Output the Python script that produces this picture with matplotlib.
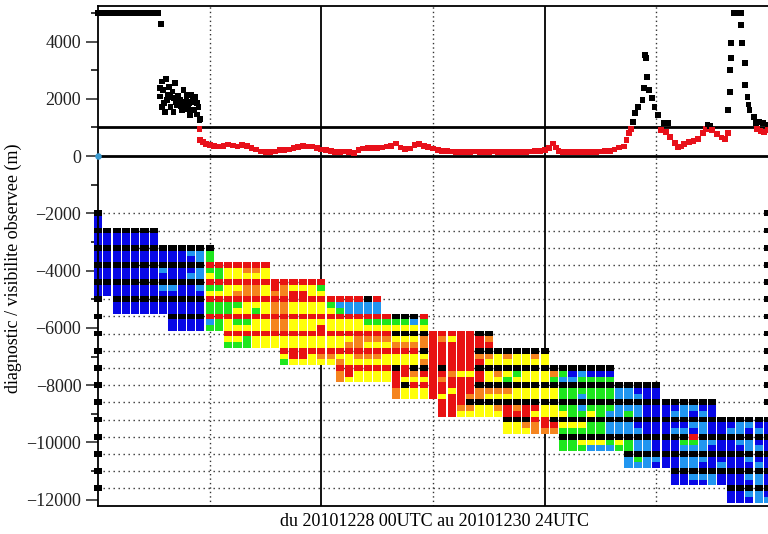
import matplotlib
matplotlib.use("Agg")
import matplotlib.pyplot as plt

plt.rcParams['font.family'] = ['Liberation Serif', 'DejaVu Serif']

# observed visibility (hours since 20101228 00UTC, metres)
obs_h = [0.0, 0.5, 1.0, 1.5, 2.0, 2.5, 3.0, 3.5, 4.0, 4.5, 5.0, 5.5, 6.0, 6.5, 6.74,
         7.3, 6.7, 7.0, 8.3, 7.5, 6.7, 8.1, 8.8, 9.6, 10.4, 10.1, 10.8, 9.4, 8.5, 7.8,
         6.9, 8.1, 9.0, 9.9, 10.9, 7.4, 9.8, 10.6, 7.1, 7.6, 8.0, 8.6, 9.2, 9.3, 10.0,
         10.3, 7.2, 8.9, 9.7, 10.6, 6.9, 8.4, 9.5, 10.2, 11.0, 7.7,
         10.9, 11.0, 11.3, 11.6, 12.0, 12.5, 13.0, 13.5, 14.0, 14.5, 15.0, 15.5, 16.0,
         16.5, 17.0, 17.5, 18.0, 18.5, 19.0, 19.5, 20.0, 20.5, 21.0, 21.5, 22.0, 22.5,
         23.0, 23.5, 24.0, 24.5, 25.0, 25.5, 26.0, 26.5, 27.0, 27.5, 28.0, 28.5, 29.0,
         29.5, 30.0, 30.5, 31.0, 31.5, 32.0, 32.5, 33.0, 33.5, 34.0, 34.5, 35.0, 35.5,
         36.0, 36.5, 37.0, 37.5, 38.0, 38.5, 39.0, 39.5, 40.0, 40.5, 41.0, 41.5, 42.0,
         42.5, 43.0, 43.5, 44.0, 44.5, 45.0, 45.5, 46.0, 46.5, 47.0, 47.5, 48.0, 48.5,
         48.9, 49.2, 49.5, 50.0, 50.5, 51.0, 51.5, 52.0, 52.5, 53.0, 53.5, 54.0, 54.5,
         55.0, 55.5, 56.0, 56.5, 56.8, 57.1, 57.3,
         57.5, 57.7, 58.0, 58.5, 58.7, 59.0, 58.8, 58.9, 59.2, 59.5, 59.8, 60.2, 60.8, 61.3,
         60.5, 61.0, 61.5, 62.0, 62.3, 62.7, 63.0, 63.5, 64.0, 64.5, 65.0, 65.3, 65.5,
         65.8, 66.0, 66.5, 67.0, 67.4, 67.7,
         68.3, 68.7, 69.1, 69.1, 69.2, 68.0, 68.0, 67.9, 69.5, 69.5, 67.9, 67.7, 69.8,
         69.9, 70.0, 70.5, 70.7, 71.0, 71.5, 72.0,
         70.8, 71.2, 71.6, 72.0]
obs_v = [5000, 5000, 5000, 5000, 5000, 5000, 5000, 5000, 5000, 5000, 5000, 5000, 5000, 5000, 4610,
         2690, 2375, 2300, 2550, 2130, 2080, 2025, 1955, 2130, 2060, 1890, 1710, 1710, 1780, 1710,
         1710, 1540, 1610, 1430, 1260, 1955, 1850, 1850, 1850, 2400, 2250, 2100, 2300, 1900, 2150,
         1600, 1550, 1750, 1650, 1450, 2600, 1900, 2050, 1950, 1300, 2050,
         940, 560, 480, 420, 380, 350, 330, 360, 400, 370, 330, 380, 350,
         270, 230, 160, 150, 140, 160, 200, 210, 230, 290, 320, 340, 330,
         330, 280, 230, 200, 170, 150, 150, 160, 140, 100, 200, 260, 270,
         280, 270, 300, 330, 360, 440, 300, 240, 260, 380, 420, 360, 320,
         260, 200, 180, 170, 160, 150, 150, 140, 150, 160, 150, 140, 150,
         160, 150, 140, 150, 150, 140, 150, 150, 160, 170, 180, 220, 270,
         440, 300, 170, 150, 140, 130, 150, 140, 130, 140, 150, 160, 170,
         180, 230, 300, 330, 560, 800, 950,
         1200, 1500, 1710, 1955, 2375, 2760, 3530, 3420, 2300, 2025, 1710, 1430, 1150, 1150,
         900, 850, 660, 450, 320, 330, 420, 480, 520, 600, 800, 950, 1100,
         1050, 900, 780, 650, 600, 800,
         5000, 5000, 5000, 4580, 3950, 3950, 3420, 3000, 3250, 2480, 2240, 1610, 2060,
         1800, 1610, 1360, 1150, 1200, 1150, 1100,
         950, 880, 840, 900]

# diagnostic cells: one string per 200 m row (row k centred at -2000-200k),
# one character per forecast hour 0..72
# K black, B blue, C light blue, G green, Y yellow, O orange, R red
grid_rows = [
    "K......... .......... .......... .......... .......... .......... .......... ..K",
    "B......... .......... .......... .......... .......... .......... .......... ...",
    "B......... .......... .......... .......... .......... .......... .......... ...",
    "KKKKKKK... .......... .......... .......... .......... .......... .......... ..K",
    "BBBBBBB... .......... .......... .......... .......... .......... .......... ...",
    "BBBBBBB... .......... .......... .......... .......... .......... .......... ...",
    "KKKKKKKKKK KKK....... .......... .......... .......... .......... .......... ..K",
    "BBBBBBBBBB CCG....... .......... .......... .......... .......... .......... ...",
    "BBBBBBBBBB BCG....... .......... .......... .......... .......... .......... ...",
    "KKKKKKKKKK KKRRRRRRR. .......... .......... .......... .......... .......... ..K",
    "BBBBBBBCBB BCGGYYOOY. .......... .......... .......... .......... .......... ...",
    "BBBBBBBBBB CCYGYYYYY. .......... .......... .......... .......... .......... ...",
    "KKKKKKKKKK KKRRRRRRRR RRRRR..... .......... .......... .......... .......... ..K",
    "BBBBBBBCCB BCGGYYOOYR OYYYG..... .......... .......... .......... .......... ...",
    "BBBBBBBBBB BBYYYOOOYO ORRYY..... .......... .......... .......... .......... ...",
    "K.KKKKKKKK KKRRRRRRRR RRRRRRRRRK R......... .......... .......... .......... ..K",
    "..BBBBBBBB BBGGGGYYYO OYYYYGCCCC C......... .......... .......... .......... ...",
    "..BBBBBBBB BBGGGYYGYO OYYYYYGCCC C......... .......... .......... .......... ...",
    "K.......KK KKRRRRRRRR RRRRRRRRRR RRKKKR.... .......... .......... .......... ..K",
    "........BB BBCGYGGYYO OYYYYYYYYG GGGGCG.... .......... .......... .......... ...",
    "........BB BBGGYYYYYO OYYYRYYYYY YYYYYY.... .......... .......... .......... ...",
    "K......... ....RRRRRR RRRRRRRRRR RRKKKKRRRR RKK....... .......... .......... ..K",
    ".......... ....YYGYYY YYYYYYYYOO OOYYYOROYR RRO....... .......... .......... ...",
    ".......... ....GGGYYY YYYYYYYOOY YYOOOORRRR RRR....... .......... .......... ...",
    "K......... .......... RRRRRRRRRR RRRRRKRRRR RKKKKKKKK. .......... .......... ..K",
    ".......... .......... YRRYOOYYOO OYYYYYRRRR ROOYOYYOY. .......... .......... ...",
    ".......... .......... GYYYYYOYYY YYYYYORRRR RRYYYYYYY. .......... .......... ...",
    "K......... .......... ......RRRR RRKRKKRKRR RKKKKKKKKK KKKKKK.... .......... ..K",
    ".......... .......... ......ORYY YYRRORRROY YRYOYGYYYO GBCBBB.... .......... ...",
    ".......... .......... ......OYYY YYRYYYRORR RRYYGYYYYG CCGGGG.... .......... ...",
    "K......... .......... .......... ..RKRRRRRR RKKKKKKKKK KKKKKKKKKK K......... ..K",
    ".......... .......... .......... ..OYYYRRYR ROOOOYYYYY GGGGGGCCBB B......... ...",
    ".......... .......... .......... ..OYYYRYRR OOYYYYYYYY GGCGGGCCCB B......... ...",
    "K......... .......... .......... .......RRR KKKKKKKKKK KKKKKKKKKK KKKKKKK... ..K",
    ".......... .......... .......... .......RRO OYYORORRYY GGCGGGCCCB BBBCCBB... ...",
    ".......... .......... .......... .......RRY YYYYRRRYYY YGGYGCCGCB BBCCBCB... ...",
    "K......... .......... .......... .......... ....KKKRRK KKKKKKKKKK KKKKKKKKKK KKK",
    ".......... .......... .......... .......... ....YYOORR YYYGGCCCBB BBBBCCBBBC CBB",
    ".......... .......... .......... .......... ....YYYOOO GGGGGCCCCB BBCCBCBBCC BCB",
    "K......... .......... .......... .......... .......... KKKKKKKKKK KKKKRKKKKK KKK",
    ".......... .......... .......... .......... .......... GGYYYGYGCC BBBGGCCBBC CBB",
    ".......... .......... .......... .......... .......... GGGCCCGGCC BBBCCCBBBB CCB",
    "K......... .......... .......... .......... .......... .......KKK KKKKKKKKKK KKK",
    ".......... .......... .......... .......... .......... .......CGC CBBCCCBBBB CBB",
    ".......... .......... .......... .......... .......... .......CCC BBBCCBBCBB BCB",
    "K......... .......... .......... .......... .......... .......... ..KKKKKKKK KKK",
    ".......... .......... .......... .......... .......... .......... ..BBCCCBBB CCB",
    ".......... .......... .......... .......... .......... .......... ..BBBBCBBB BCB",
    "K......... .......... .......... .......... .......... .......... ........KK KKK",
    ".......... .......... .......... .......... .......... .......... ........BB CCB",
    ".......... .......... .......... .......... .......... .......... ........BB BCC",
]
row_top = -2000
row_step = 200

cell_colors = {'K': '#000000', 'B': '#0808e6', 'C': '#2196f0', 'G': '#1ee61e',
               'Y': '#ffff0a', 'O': '#f5841e', 'R': '#e81212'}

fig = plt.figure(figsize=(7.68, 5.34), dpi=100)
ax = fig.add_axes([98/768, 28/534, 670/768, 500/534])
ax.set_xlim(0, 72)
ax.set_ylim(-12220, 5240)

# grid lines
for k in range(17):
    ax.axhline(row_top - 600*k, color='#333333', lw=1.0, ls=(0, (1, 2.6)), zorder=1)
for h in [12, 36, 60]:
    ax.axvline(h, color='#333333', lw=1.0, ls=(0, (1, 2.2)), zorder=1)
for h in [24, 48]:
    ax.axvline(h, color='black', lw=1.3, zorder=1)
ax.axhline(1000, color='black', lw=2, zorder=3)
ax.axhline(0, color='black', lw=2, zorder=3)

# cells
cells = {c: ([], []) for c in cell_colors}
for k, row in enumerate(grid_rows):
    row = row.replace(" ", "")
    for h, ch in enumerate(row):
        if ch in cells:
            cells[ch][0].append(h)
            cells[ch][1].append(row_top - row_step*k - row_step/2)
for ch, (hs, bots) in cells.items():
    ax.bar(hs, row_step, bottom=bots, width=0.88, color=cell_colors[ch],
           linewidth=0, zorder=2, clip_on=False)

# observations
col = ['black' if v >= 1000 else '#e8101a' for v in obs_v]
ax.scatter(obs_h, obs_v, s=17, marker='s', c=col, linewidths=0, zorder=4, clip_on=False)
ax.scatter([0], [0], s=22, marker='o', c='#3a9ad0', linewidths=0, zorder=5, clip_on=False)

# axes
ax.set_xticks([])
ax.set_yticks(list(range(4000, -12001, -2000)))
ax.set_yticks(list(range(5000, -11001, -2000)), minor=True)
ax.tick_params(axis='y', which='major', direction='out', length=8.5, width=1.1,
               labelsize=13, pad=3.5, colors='#222222')
ax.tick_params(axis='y', which='minor', direction='out', length=5, width=1.1)
for s in ['left', 'top', 'bottom']:
    ax.spines[s].set_linewidth(1.3)
ax.spines['right'].set_visible(False)

fig.text(435/768, 1 - 521/534, "du 20101228 00UTC au 20101230 24UTC",
         ha='center', va='center', fontsize=13)
fig.text(13/768, 1 - 268/534, "diagnostic / visibilite observee (m)",
         ha='center', va='center', rotation=90, fontsize=13)

fig.savefig("out.png", dpi=100)
